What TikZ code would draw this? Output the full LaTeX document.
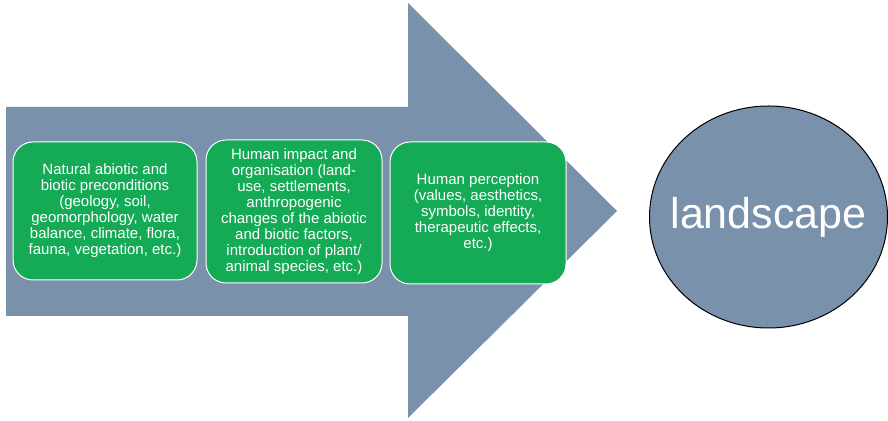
\documentclass[tikz,border=0pt]{standalone}
\usepackage{fontspec}
\setmainfont{Liberation Sans}
\usetikzlibrary{shapes, positioning}
\definecolor{steel}{RGB}{122,145,171}
\definecolor{leaf}{RGB}{20,170,86}

\begin{document}
\begin{tikzpicture}[x=1pt, y=1pt,
  stage/.style={rectangle, rounded corners=20pt, draw=white, line width=1pt, fill=leaf, text=white, align=center, font=\fontsize{15}{16}\selectfont, inner sep=0pt}]
\useasboundingbox (0,0) rectangle (888,420);
% big arrow behind the boxes
\fill[steel] (6,313) -- (408,313) -- (408,417) -- (617,209) -- (408,2) -- (408,104) -- (6,104) -- cycle;
\node (natural)[stage, minimum width=184, minimum height=138] at (105,209) {Natural abiotic and\\biotic preconditions\\(geology, soil,\\geomorphology, water\\balance, climate, flora,\\fauna, vegetation, etc.)};
\node (impact)[stage, minimum width=176, minimum height=143] at (294,208.5) {Human impact and\\organisation (land-\\use, settlements,\\anthropogenic\\changes of the abiotic\\and biotic factors,\\introduction of plant/\\animal species, etc.)};
\node (perception)[stage, minimum width=176, minimum height=142] at (478,207) {Human perception\\(values, aesthetics,\\symbols, identity,\\therapeutic effects,\\etc.)};
\node (landscape)[ellipse, draw=black, line width=1pt, fill=steel, text=white, minimum width=238, minimum height=222, inner sep=0pt] at (768.5,203) {};
\node (word)[text=white, inner sep=0pt, font=\fontsize{43}{43}\selectfont] at (landscape.center) {landscape};
\end{tikzpicture}
\end{document}
